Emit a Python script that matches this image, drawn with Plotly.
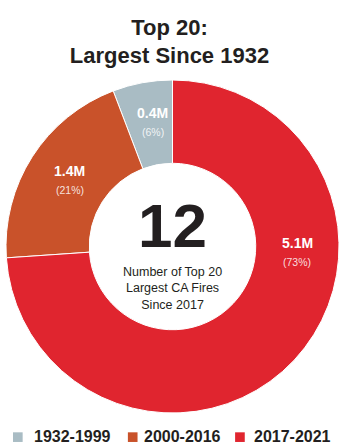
import plotly.graph_objects as go

periods = ["1932-1999", "2000-2016", "2017-2021"]
acres_m = [0.4, 1.4, 5.1]
pct_labels = ["6%", "21%", "73%"]
colors = ["#a9bcc4", "#c9522a", "#e0252f"]
# label placement (paper coords) for the slice annotations
label_x = [0.441, 0.192, 0.874]
label_y = [0.901, 0.727, 0.511]

center_big = "12"
center_sub = "Number of Top 20<br>Largest CA Fires<br>Since 2017"

# first slice runs counterclockwise from 12 o'clock
first_deg = 360 * acres_m[0] / sum(acres_m)

fig = go.Figure()
fig.add_trace(go.Pie(
    labels=periods,
    values=acres_m,
    hole=0.5,
    sort=False,
    direction="counterclockwise",
    rotation=-first_deg,
    marker=dict(colors=colors, line=dict(color="white", width=1)),
    textinfo="none",
    hoverinfo="label+value",
    showlegend=False,
    domain=dict(x=[0, 1], y=[0, 1]),
))

FONT = "Liberation Sans, Arial, sans-serif"
DARK = "#231f20"
annotations = []
for v, p, x, y in zip(acres_m, pct_labels, label_x, label_y):
    annotations.append(dict(x=x, y=y, xref="paper", yref="paper", showarrow=False,
                            text=f"<b>{v}M</b>", font=dict(family=FONT, size=14, color="white"),
                            xanchor="center", yanchor="middle"))
    annotations.append(dict(x=x, y=y - 0.057, xref="paper", yref="paper", showarrow=False,
                            text=f"({p})", font=dict(family=FONT, size=10.5, color="rgba(255,255,255,0.85)"),
                            xanchor="center", yanchor="middle"))

annotations.append(dict(x=0.5, y=0.562, xref="paper", yref="paper", showarrow=False,
                        text=f"<b>{center_big}</b>", font=dict(family=FONT, size=62, color=DARK),
                        xanchor="center", yanchor="middle"))
annotations.append(dict(x=0.5, y=0.375, xref="paper", yref="paper", showarrow=False,
                        text=center_sub, font=dict(family=FONT, size=12.5, color=DARK),
                        xanchor="center", yanchor="middle"))

# legend: colored squares + labels below the donut
leg_sq_x = [0.021, 0.366, 0.688]
leg_tx_x = [0.078, 0.408, 0.739]
shapes = []
for c, sx, tx, name in zip(colors, leg_sq_x, leg_tx_x, periods):
    shapes.append(dict(type="rect", xref="paper", yref="paper", x0=sx, x1=sx + 0.029,
                       y0=-0.087, y1=-0.058, fillcolor=c, line=dict(width=0)))
    annotations.append(dict(x=tx, y=-0.072, xref="paper", yref="paper", showarrow=False,
                            text=f"<b>{name}</b>", font=dict(family=FONT, size=16, color=DARK),
                            xanchor="left", yanchor="middle"))

fig.update_layout(
    width=339, height=447,
    margin=dict(l=6, r=0, t=80, b=34),
    paper_bgcolor="white",
    plot_bgcolor="white",
    title=dict(text="<b>Top 20:<br>Largest Since 1932</b>", x=0.5, xanchor="center",
               y=0.922, yanchor="middle",
               font=dict(family=FONT, size=22, color=DARK)),
    showlegend=False,
    annotations=annotations,
    shapes=shapes,
)

fig.write_html("out.html")
